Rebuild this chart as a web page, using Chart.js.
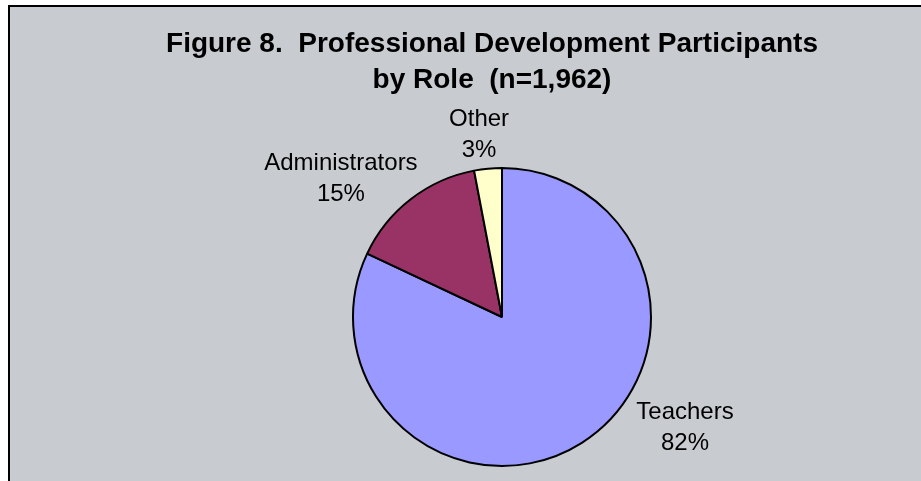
<!DOCTYPE html>
<html>
<head>
<meta charset="utf-8">
<script src="https://cdn.jsdelivr.net/npm/chart.js@4.4.1/dist/chart.umd.min.js"></script>
<style>
  html, body { margin: 0; padding: 0; background: #fff; }
  #frame {
    position: absolute; left: 8px; top: 5px;
    width: 911px; height: 474px;
    border-top: 2px solid #000; border-left: 2px solid #000;
    background: #c8ccd0;
  }
  canvas { display: block; }
</style>
</head>
<body>
<div id="frame"><canvas id="pie" width="911" height="474"></canvas></div>
<script>
// ── Data ──────────────────────────────────────────────────────────────
const roles   = ["Teachers", "Administrators", "Other"];
const shares  = [82, 15, 3];
const colours = ["#9999ff", "#993366", "#ffffcc"];
const titleLines = ["Figure 8.  Professional Development Participants", "by Role  (n=1,962)"];

// label anchor relative to pie centre, in units of the radius
const labelAnchor = [[1.228, 0.745], [-1.081, -0.926], [-0.154, -1.221]];

const FONT = "'Liberation Sans', Arial, sans-serif";

// Title drawn by hand so it can sit off the pie's centre line
const titlePlugin = {
  id: "figTitle",
  afterDraw(chart) {
    const ctx = chart.ctx;
    ctx.save();
    ctx.fillStyle = "#000";
    ctx.font = "bold 28px " + FONT;
    ctx.textAlign = "center";
    ctx.textBaseline = "alphabetic";
    ctx.fillText(titleLines[0], 482, 45);
    ctx.fillText(titleLines[1], 482, 81);
    ctx.restore();
  }
};

// Category + percent labels outside the slices
const labelPlugin = {
  id: "sliceLabels",
  afterDatasetsDraw(chart) {
    const ctx  = chart.ctx;
    const meta = chart.getDatasetMeta(0);
    const vals = chart.data.datasets[0].data;
    const total = vals.reduce((a, b) => a + b, 0);
    ctx.save();
    ctx.fillStyle = "#000";
    ctx.font = "24px " + FONT;
    ctx.textAlign = "center";
    ctx.textBaseline = "middle";
    meta.data.forEach((arc, i) => {
      const r = arc.outerRadius;
      const [fx, fy] = labelAnchor[i];
      const x = arc.x + fx * r, y = arc.y + fy * r;
      const pct = Math.round(vals[i] / total * 100) + "%";
      ctx.fillText(chart.data.labels[i], x, y - 15.5);
      ctx.fillText(pct, x, y + 15.5);
    });
    ctx.restore();
  }
};

new Chart(document.getElementById("pie").getContext("2d"), {
  type: "pie",
  data: {
    labels: roles,
    datasets: [{
      data: shares,
      backgroundColor: colours,
      borderColor: "#000",
      borderWidth: 2,
      radius: 149
    }]
  },
  options: {
    responsive: false,
    animation: false,
    layout: { padding: { left: 223, right: 150, top: 156, bottom: 10 } },
    plugins: {
      legend: { display: false },
      tooltip: { enabled: false },
      title: { display: false }
    }
  },
  plugins: [titlePlugin, labelPlugin]
});
</script>
</body>
</html>
